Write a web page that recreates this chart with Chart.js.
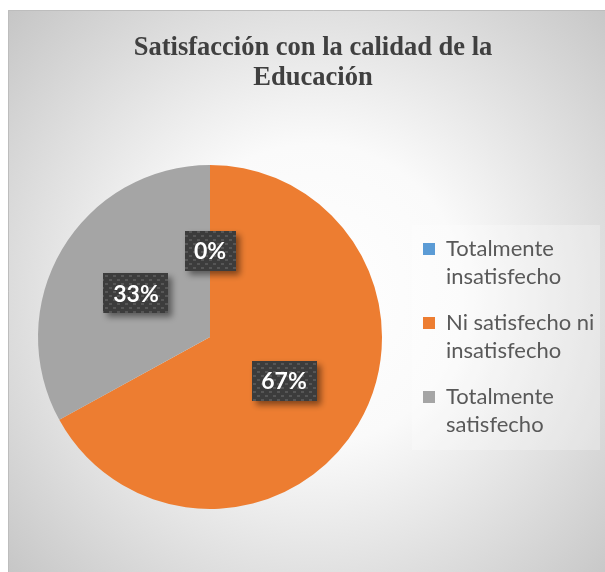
<!DOCTYPE html>
<html>
<head>
<meta charset="utf-8">
<script src="https://cdn.jsdelivr.net/npm/chart.js@4.4.1/dist/chart.umd.min.js"></script>
<style>
html, body { margin: 0; padding: 0; background: #fff; overflow: hidden; width: 605px; height: 572px; }
#wrap { position: absolute; left: 8px; top: 10px; width: 610px; height: 562px; }
</style>
</head>
<body>
<div id="wrap"><canvas id="c" width="610" height="562"></canvas></div>
<script>
const titleLines = ['Satisfacción con la calidad de la', 'Educación'];
const categories = [['Totalmente', 'insatisfecho'], ['Ni satisfecho ni', 'insatisfecho'], ['Totalmente', 'satisfecho']];
const percents = [0, 67, 33];
const colors = ['#5B9BD5', '#ED7D31', '#A5A5A5'];

// dark dotted fill used behind the data labels
function makePattern(ctx) {
  const t = document.createElement('canvas');
  t.width = 8; t.height = 8;
  const g = t.getContext('2d');
  g.fillStyle = '#3c3c3c'; g.fillRect(0, 0, 8, 8);
  g.fillStyle = '#565656'; g.fillRect(1, 1, 3, 2); g.fillRect(5, 5, 3, 2);
  return ctx.createPattern(t, 'repeat');
}

const bgPlugin = {
  id: 'bg',
  beforeDraw(chart) {
    const { ctx, width, height } = chart;
    ctx.save();
    const g = ctx.createRadialGradient(305, 285, 0, 305, 285, 430);
    g.addColorStop(0, '#ffffff');
    g.addColorStop(0.35, '#fafafa');
    g.addColorStop(1, '#c3c3c3');
    ctx.fillStyle = g;
    ctx.fillRect(0, 0, width, height);
    ctx.fillStyle = 'rgba(255,255,255,0.25)';
    ctx.fillRect(404, 215, 188, 225);
    // frame: only top and left edges are visible in the crop
    ctx.strokeStyle = '#bdbdbd';
    ctx.lineWidth = 1;
    ctx.beginPath();
    ctx.moveTo(0.5, height);
    ctx.lineTo(0.5, 0.5);
    ctx.lineTo(width, 0.5);
    ctx.stroke();
    ctx.restore();
  }
};

const labelPlugin = {
  id: 'boxLabels',
  afterDatasetsDraw(chart) {
    const ctx = chart.ctx;
    const pat = makePattern(ctx);
    const meta = chart.getDatasetMeta(0);
    ctx.save();
    ctx.font = 'bold 23px Lato';
    ctx.textAlign = 'center';
    ctx.textBaseline = 'middle';
    meta.data.forEach((arc, i) => {
      const p = arc.getCenterPoint();
      const txt = percents[i] + '%';
      const w = Math.round(ctx.measureText(txt).width + 19), h = 40;
      const x = Math.round(p.x - w / 2), y = Math.round(p.y - h / 2);
      ctx.save();
      ctx.shadowColor = 'rgba(0,0,0,0.45)';
      ctx.shadowBlur = 6;
      ctx.shadowOffsetX = 4;
      ctx.shadowOffsetY = 4;
      ctx.fillStyle = pat;
      ctx.fillRect(x, y, w, h);
      ctx.restore();
      ctx.fillStyle = '#fff';
      ctx.fillText(txt, p.x, p.y + 1);
    });
    ctx.restore();
  }
};

// fixed legend width so pie and title land where they should
const legendFix = {
  id: 'legendFix',
  beforeInit(chart) {
    const l = chart.legend;
    const fit = l.fit;
    l.fit = function () { fit.call(this); this.width = 206; };
  }
};

new Chart(document.getElementById('c'), {
  type: 'pie',
  data: {
    labels: categories,
    datasets: [{
      data: percents,
      backgroundColor: colors,
      borderWidth: 0
    }]
  },
  options: {
    responsive: false,
    animation: false,
    layout: { padding: { left: 7, right: 7, top: 0, bottom: 63 } },
    plugins: {
      tooltip: { enabled: false },
      title: {
        display: true,
        text: titleLines,
        color: '#404040',
        font: { family: 'Liberation Serif', size: 26.5, weight: 'bold', lineHeight: '30px' },
        padding: { top: 23, bottom: 72 }
      },
      legend: {
        position: 'right',
        fullSize: false,
        align: 'center',
        title: { display: true, text: '', padding: 0, font: { size: 6, lineHeight: 1 } },
        labels: {
          boxWidth: 12,
          boxHeight: 12,
          padding: 18,
          color: '#595959',
          font: { family: 'Lato', size: 22, lineHeight: '28px' }
        }
      }
    }
  },
  plugins: [bgPlugin, labelPlugin, legendFix]
});
</script>
</body>
</html>
